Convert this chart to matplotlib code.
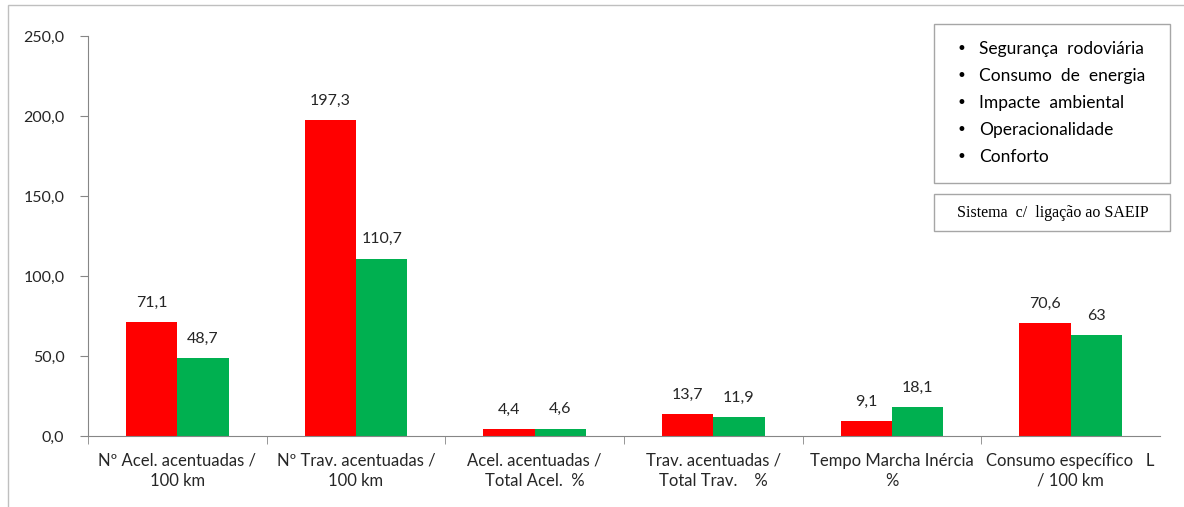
import matplotlib.pyplot as plt
from matplotlib.patches import Rectangle
import numpy as np

plt.rcParams['font.family'] = ['Lato', 'DejaVu Sans']

# indicators and results for the two runs
categories = ['Nº Acel. acentuadas /\n100 km', 'Nº Trav. acentuadas /\n100 km',
              'Acel. acentuadas /\nTotal Acel.  %', 'Trav. acentuadas /\nTotal Trav.    %',
              'Tempo Marcha Inércia\n%', 'Consumo específico   L\n/ 100 km']
red_vals = [71.1, 197.3, 4.4, 13.7, 9.1, 70.6]
green_vals = [48.7, 110.7, 4.6, 11.9, 18.1, 63.0]
red_labels = ['71,1', '197,3', '4,4', '13,7', '9,1', '70,6']
green_labels = ['48,7', '110,7', '4,6', '11,9', '18,1', '63']
yticks = [0, 50, 100, 150, 200, 250]
ytick_labels = ['0,0', '50,0', '100,0', '150,0', '200,0', '250,0']
aspects = ['Segurança  rodoviária', 'Consumo  de  energia', 'Impacte  ambiental',
           'Operacionalidade', 'Conforto']

axis_grey = '#868686'
text_col = '#262626'

fig = plt.figure(figsize=(11.84, 5.07), dpi=100)
ax = fig.add_axes([88 / 1184, 1 - 436 / 507, 1072 / 1184, 400 / 507])

x = np.arange(len(categories))
w = 0.287
b1 = ax.bar(x - w / 2, red_vals, w, color='#FF0000')
b2 = ax.bar(x + w / 2, green_vals, w, color='#00B050')
ax.bar_label(b1, labels=red_labels, padding=9, fontsize=11.5, color=text_col)
ax.bar_label(b2, labels=green_labels, padding=9, fontsize=11.5, color=text_col)

ax.set_xlim(-0.5, len(categories) - 0.5)
ax.set_ylim(0, 250)
ax.set_yticks(yticks, ytick_labels)
ax.set_xticks(x, categories)
ax.set_xticks(np.arange(-0.5, len(categories) - 0.5, 1), minor=True)
ax.tick_params(axis='x', which='major', length=0, pad=12, labelsize=12, colors=text_col)
ax.tick_params(axis='x', which='minor', length=6, color=axis_grey)
ax.tick_params(axis='y', length=6, color=axis_grey, pad=11, labelsize=11.5, labelcolor=text_col)
for lbl in ax.get_xticklabels():
    lbl.set_linespacing(1.3)

for side in ['top', 'right']:
    ax.spines[side].set_visible(False)
for side in ['left', 'bottom']:
    ax.spines[side].set_color(axis_grey)

# outer chart frame
fig.patches.append(Rectangle((8 / 1184, -0.1), 1.2, 1 - 5 / 507 + 0.1, transform=fig.transFigure,
                             fill=False, edgecolor='#BFBFBF', linewidth=1))

# list of evaluated aspects
fig.patches.append(Rectangle((934 / 1184, 1 - 183 / 507), 236 / 1184, 159 / 507,
                             transform=fig.transFigure, fill=False, edgecolor='#A6A6A6', linewidth=1))
for i, item in enumerate(aspects):
    yy = 1 - (49 + 27 * i) / 507
    fig.text(961 / 1184, yy, '•', fontsize=12, ha='center', va='center', family='DejaVu Sans')
    fig.text(979 / 1184, yy, item, fontsize=12.5, ha='left', va='center')

fig.patches.append(Rectangle((934 / 1184, 1 - 231 / 507), 236 / 1184, 37 / 507,
                             transform=fig.transFigure, fill=False, edgecolor='#A6A6A6', linewidth=1))
fig.text(1053 / 1184, 1 - 213 / 507, 'Sistema  c/  ligação ao SAEIP', fontsize=11.5,
         ha='center', va='center', family='Liberation Serif')

fig.savefig('out.png', dpi=100)
